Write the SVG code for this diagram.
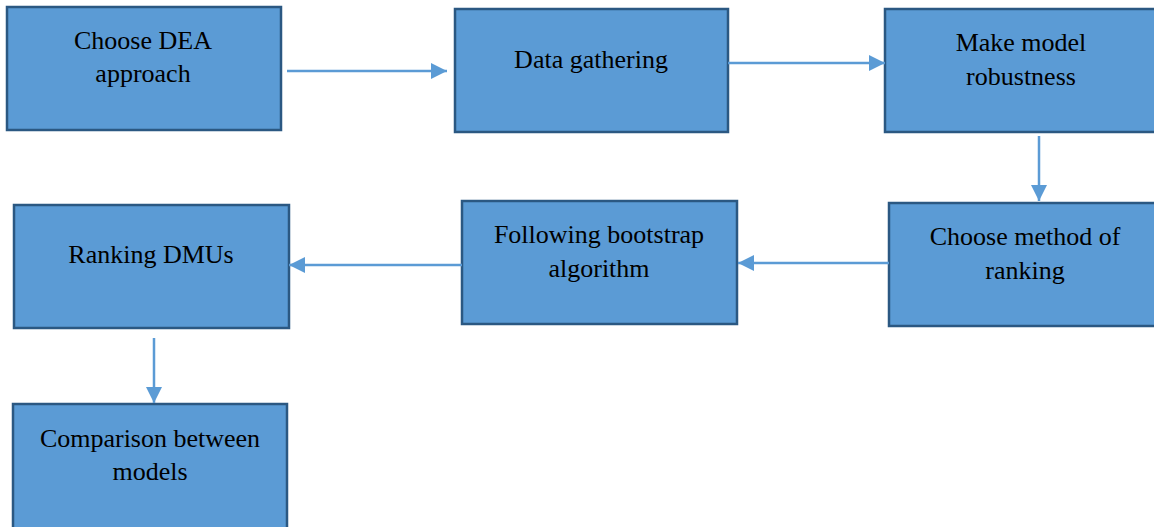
<svg xmlns="http://www.w3.org/2000/svg" width="1154" height="527" viewBox="0 0 1154 527">
<defs>
<style>
.box{fill:#5B9BD5;stroke:#2B5882;stroke-width:2.5}
.t{font-family:"Liberation Serif","Times New Roman",serif;font-size:26px;fill:#000;text-anchor:middle}
.c{stroke:#5B9BD5;stroke-width:2.5;fill:none}
</style>
<marker id="ah" markerWidth="16" markerHeight="16" refX="16" refY="8" orient="auto" markerUnits="userSpaceOnUse" viewBox="0 0 16 16">
<path d="M0,0 L16,8 L0,16 Z" fill="#5B9BD5"/>
</marker>
</defs>
<rect width="1154" height="527" fill="#fff"/>
<g id="n1"><rect class="box" x="7" y="7" width="274" height="123"/><text class="t" x="143" y="49">Choose DEA</text><text class="t" x="143" y="82">approach</text></g>
<g id="n2"><rect class="box" x="455" y="9" width="273" height="123"/><text class="t" x="591" y="68">Data gathering</text></g>
<g id="n3"><rect class="box" x="885" y="9" width="272" height="123"/><text class="t" x="1021" y="51">Make model</text><text class="t" x="1021" y="85">robustness</text></g>
<g id="n4"><rect class="box" x="889" y="203" width="268" height="123"/><text class="t" x="1025" y="245">Choose method of</text><text class="t" x="1025" y="279">ranking</text></g>
<g id="n5"><rect class="box" x="462" y="201" width="275" height="123"/><text class="t" x="599" y="243">Following bootstrap</text><text class="t" x="599" y="277">algorithm</text></g>
<g id="n6"><rect class="box" x="14" y="205" width="275" height="123"/><text class="t" x="151" y="263">Ranking DMUs</text></g>
<g id="n7"><rect class="box" x="13" y="404" width="274" height="130"/><text class="t" x="150" y="447">Comparison between</text><text class="t" x="150" y="480">models</text></g>
<g id="connectors">
<line class="c" x1="287" y1="71" x2="447" y2="71" marker-end="url(#ah)"/>
<line class="c" x1="728" y1="63" x2="885" y2="63" marker-end="url(#ah)"/>
<line class="c" x1="1039" y1="136" x2="1039" y2="201" marker-end="url(#ah)"/>
<line class="c" x1="889" y1="263" x2="738" y2="263" marker-end="url(#ah)"/>
<line class="c" x1="462" y1="265" x2="289" y2="265" marker-end="url(#ah)"/>
<line class="c" x1="154" y1="338" x2="154" y2="403" marker-end="url(#ah)"/>
</g>
</svg>
